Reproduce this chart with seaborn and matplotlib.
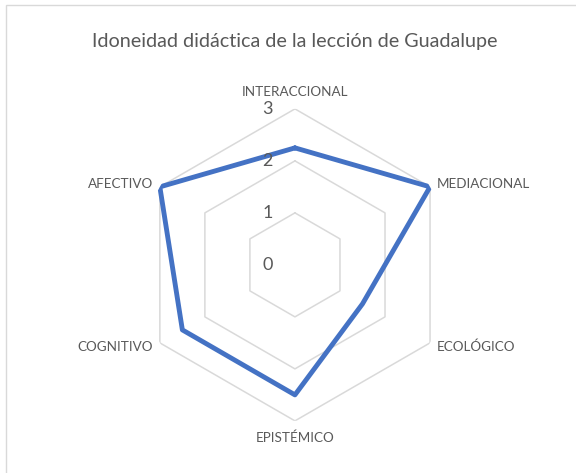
import numpy as np
import pandas as pd
import matplotlib
matplotlib.use("Agg")
import matplotlib.pyplot as plt
from matplotlib.patches import Rectangle
import seaborn as sns

# chart data
categories = ["INTERACCIONAL", "MEDIACIONAL", "ECOLÓGICO", "EPISTÉMICO", "COGNITIVO", "AFECTIVO"]
scores = [2.25, 3.0, 1.5, 2.5, 2.5, 3.0]
rings = [1, 2, 3]
tick_labels = ["0", "1", "2", "3"]
title = "Idoneidad didáctica de la lección de Guadalupe"

sns.set_style("white")
plt.rcParams["font.family"] = ["Lato", "DejaVu Sans"]
text_color = "#595959"
grid_color = "#D9D9D9"
line_color = "#4472C4"

n = len(categories)
angles = np.arange(n) * 2 * np.pi / n
closed_angles = np.append(angles, angles[0])

fig = plt.figure(figsize=(5.76, 4.73), dpi=100)

# chart border (Excel chart area)
fig.patches.append(Rectangle((6 / 576, -0.05), 1.1, 1 - 5 / 473 + 0.05,
                             transform=fig.transFigure, fill=False,
                             edgecolor=grid_color, linewidth=1.0))

ax = fig.add_axes([0.512 - 0.2708, 0.44 - 0.3298, 0.5417, 0.6596], projection="polar")
ax.set_theta_offset(np.pi / 2)
ax.set_theta_direction(-1)
ax.set_ylim(0, 3)
ax.grid(False)
ax.spines["polar"].set_visible(False)
ax.set_xticks([])
ax.set_yticks([])
ax.patch.set_alpha(0)

# hexagonal gridlines
for r in rings:
    ax.plot(closed_angles, [r] * (n + 1), color=grid_color, linewidth=1.1, zorder=1)

# data series
df = pd.DataFrame({"theta": closed_angles, "score": scores + scores[:1]})
sns.lineplot(data=df, x="theta", y="score", sort=False, estimator=None,
             color=line_color, linewidth=3.5, ax=ax, zorder=3)
ax.set_xlabel("")
ax.set_ylabel("")

# radial tick labels
for i, lab in enumerate(tick_labels):
    ax.annotate(lab, (0, i), xytext=(-16, 0), textcoords="offset points",
                ha="right", va="center", fontsize=13, color=text_color)

# category labels
offsets = [((0, 8), "center", "bottom"),
           ((5, 2), "left", "center"),
           ((5, -3), "left", "center"),
           ((0, -8), "center", "top"),
           ((-5, -3), "right", "center"),
           ((-5, 2), "right", "center")]
for ang, cat, (off, ha, va) in zip(angles, categories, offsets):
    ax.annotate(cat, (ang, 3), xytext=off, textcoords="offset points",
                ha=ha, va=va, fontsize=9.7, color=text_color)

fig.text(0.512, 1 - 42 / 473, title, ha="center", va="center",
         fontsize=14.2, color=text_color)

fig.savefig("out.png", dpi=100)
